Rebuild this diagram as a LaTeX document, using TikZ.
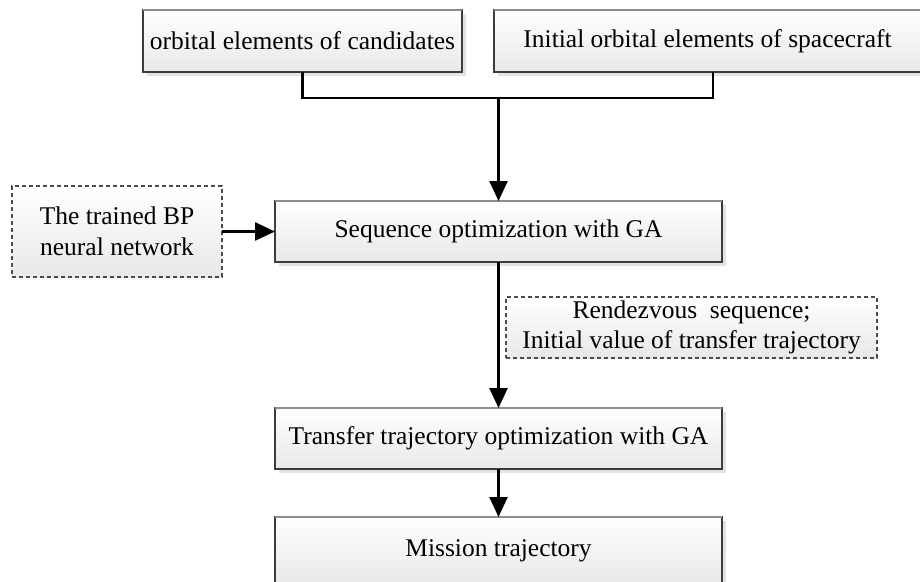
\documentclass[tikz,border=0pt]{standalone}
\usepackage{fontspec}
\setmainfont{Liberation Serif}
\usetikzlibrary{arrows.meta,shadows}
\definecolor{edge}{HTML}{3C3C3C}
\definecolor{topline}{HTML}{8E8E8E}
\definecolor{shadowgray}{HTML}{E3E3E3}
\definecolor{fillbottom}{HTML}{E8E8E8}
\tikzset{
  x=1pt, y=-1pt,
  every node/.style={font=\fontsize{25.5}{31}\selectfont, text=black},
  panel/.style={draw=edge, line width=1.2pt, top color=white, bottom color=fillbottom,
    inner sep=0pt, outer sep=0pt, align=center},
  solidpanel/.style={panel, drop shadow={shadow xshift=4pt, shadow yshift=-4pt,
    fill=shadowgray, draw=none, opacity=1}},
  dashpanel/.style={panel, draw=black!70, dash pattern=on 4pt off 3pt},
  topedge/.style={draw=topline, line width=1.4pt},
  wire/.style={draw=black, line width=2.5pt, line join=miter},
  arrow/.style={wire, -{Triangle[length=20pt, width=18pt]}}
}
\begin{document}
\begin{tikzpicture}
  \clip (0,0) rectangle (920,581);

  % input data
  \node[solidpanel, minimum width=319pt, minimum height=62pt] (cand) at (302.5,41)
    {orbital elements of candidates};
  \node[solidpanel, minimum width=427pt, minimum height=62pt] (craft) at (707.5,41)
    {Initial orbital elements of spacecraft};

  % optimisation stages
  \node[solidpanel, minimum width=447pt, minimum height=61pt] (seq) at (498.5,231.5)
    {Sequence optimization with GA};
  \node[dashpanel, minimum width=210pt, minimum height=91pt] (bp) at (117,231.5)
    {The trained BP\\neural network};
  \node[dashpanel, minimum width=371pt, minimum height=61pt, font=\fontsize{25.5}{30}\selectfont] (res) at (691.5,327.5)
    {Rendezvous\ \ sequence;\\Initial value of transfer trajectory};
  \node[solidpanel, minimum width=447pt, minimum height=61pt] (tra) at (498.5,438.5)
    {Transfer trajectory optimization with GA};
  \node[solidpanel, minimum width=447pt, minimum height=67pt] (mis) at (498.5,550.5)
    {Mission trajectory};

  % lighter top borders
  \foreach \n in {cand,craft,seq,tra,mis}
    \draw[topedge] (\n.north west) -- (\n.north east);

  % merging the two inputs
  \coordinate (ja) at (302.5,98);
  \coordinate (jb) at (713,98);
  \coordinate (jm) at (498.5,98);
  \draw[wire] (cand.south) -- (ja) -- (jb) -- (craft.south -| jb);
  \draw[arrow] (jm) -- (seq.north);

  % flow between stages
  \draw[arrow] (bp.east) -- (seq.west);
  \draw[arrow] (seq.south) -- (tra.north);
  \draw[arrow] (tra.south) -- (mis.north);
\end{tikzpicture}
\end{document}
